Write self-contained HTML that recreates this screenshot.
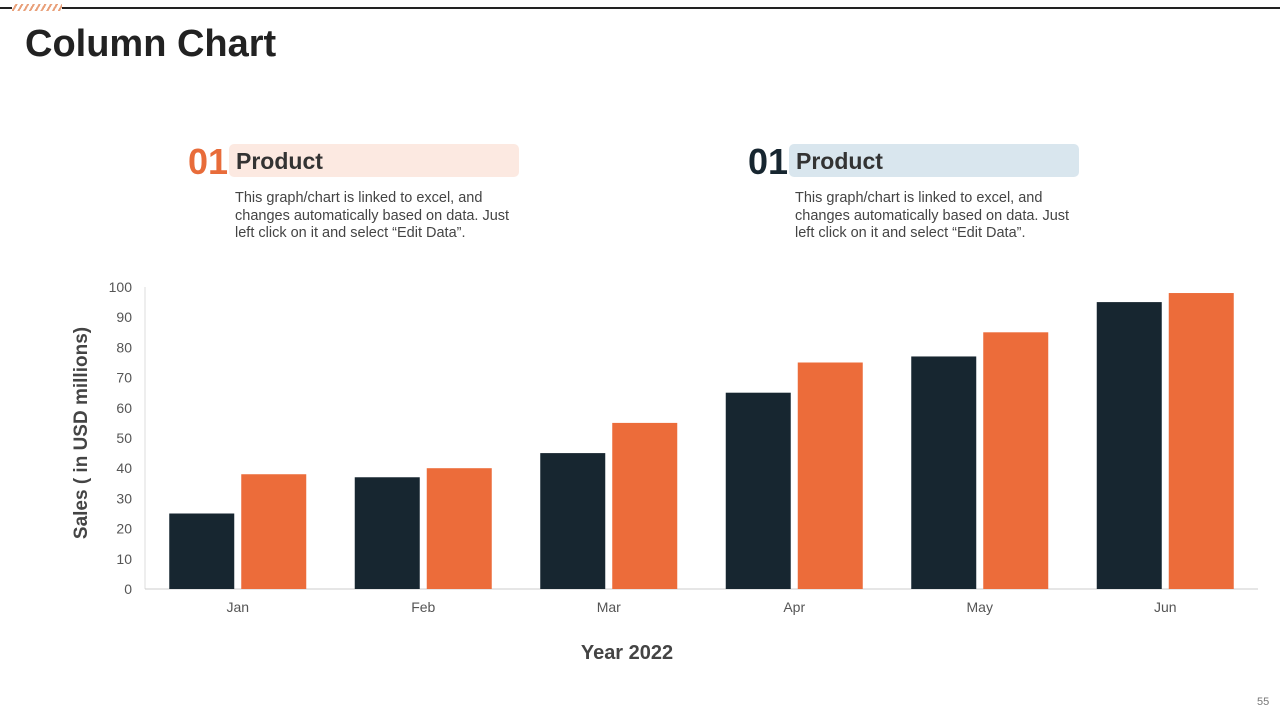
<!DOCTYPE html>
<html><head><meta charset="utf-8"><style>
body{margin:0;width:1280px;height:720px;background:#fff;font-family:"Liberation Sans",sans-serif;position:relative;overflow:hidden}
.abs{position:absolute}
.num{font-size:36px;font-weight:bold;top:141px}
.pill{top:144px;height:33px;width:290px;border-radius:5px;font-size:23px;font-weight:bold;color:#333;line-height:34px;padding-left:7px;box-sizing:border-box}
.desc{top:190px;font-size:14.5px;color:#444;line-height:17.5px;width:290px}
</style></head><body>
<div class="abs" style="left:0;top:7px;width:1280px;height:2px;background:#222"></div>
<div class="abs" style="left:12px;top:4px;width:50px;height:7px;background:repeating-linear-gradient(120deg,#fff 0 3px,#e9a07a 3px 5px)"></div>
<div class="abs" style="left:25px;top:23px;font-size:38px;font-weight:bold;color:#222">Column Chart</div>

<div class="abs num" style="left:188px;color:#e86c3a">01</div>
<div class="abs pill" style="left:229px;background:#fce9e1">Product</div>
<div class="abs desc" style="left:235px">This graph/chart is linked to excel, and changes automatically based on data. Just left click on it and select “Edit Data”.</div>

<div class="abs num" style="left:748px;color:#172630">01</div>
<div class="abs pill" style="left:789px;background:#d9e6ee">Product</div>
<div class="abs desc" style="left:795px">This graph/chart is linked to excel, and changes automatically based on data. Just left click on it and select “Edit Data”.</div>

<svg class="abs" style="left:0;top:0" width="1280" height="720" id="chart"></svg>
<div class="abs" style="left:1257px;top:696px;font-size:11px;color:#777">55</div>
<script>
const categories=["Jan","Feb","Mar","Apr","May","Jun"];
const seriesDark=[25,37,45,65,77,95];
const seriesOrange=[38,40,55,75,85,98];
const yTicks=[0,10,20,30,40,50,60,70,80,90,100];
const NS="http://www.w3.org/2000/svg";
const svg=document.getElementById("chart");
const x0=145,x1=1258,yb=589,yt=287;
const y=v=>yb-(v/100)*(yb-yt);
const band=(x1-x0)/categories.length;
const bw=65,gap=7;
function el(t,a){const e=document.createElementNS(NS,t);for(const k in a)e.setAttribute(k,a[k]);svg.appendChild(e);return e;}
const ax=el("line",{x1:x0,y1:yt,x2:x0,y2:yb,stroke:"#ddd"});


const bx=el("line",{x1:x0,y1:yb,x2:x1,y2:yb,stroke:"#ccc"});


yTicks.forEach(t=>{const e=el("text",{x:132,y:y(t)+5,"text-anchor":"end","font-size":14,fill:"#555"});e.textContent=t;

});
categories.forEach((c,i)=>{
const cx=x0+band*(i+0.5);
const r1=el("rect",{x:cx-gap/2-bw,y:y(seriesDark[i]),width:bw,height:yb-y(seriesDark[i]),fill:"#172630"});


const r2=el("rect",{x:cx+gap/2,y:y(seriesOrange[i]),width:bw,height:yb-y(seriesOrange[i]),fill:"#ec6c3a"});


const t=el("text",{x:cx,y:612,"text-anchor":"middle","font-size":14,fill:"#555"});t.textContent=c;


});
const xt=el("text",{x:627,y:659,"text-anchor":"middle","font-size":20,"font-weight":"bold",fill:"#444"});xt.textContent="Year 2022";


const yt2=el("text",{x:0,y:0,"text-anchor":"middle","font-size":19,"font-weight":"bold",fill:"#444",transform:"translate(87,433) rotate(-90)"});yt2.textContent="Sales  ( in USD millions)";


</script>
</body></html>
